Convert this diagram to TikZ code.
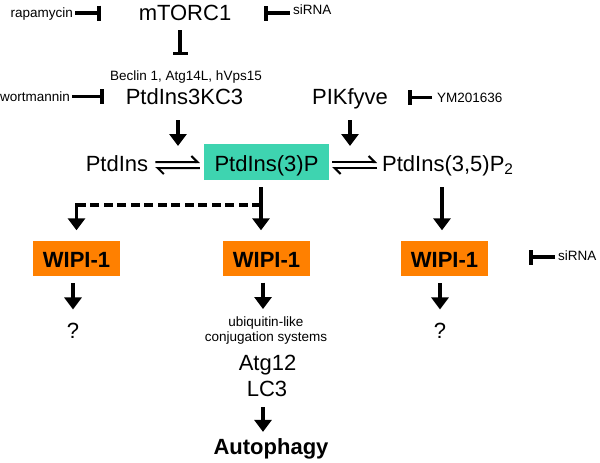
\documentclass[tikz,border=0pt]{standalone}
\usepackage{fontspec}
\setmainfont{Liberation Sans}
\usetikzlibrary{arrows.meta,calc}
\definecolor{teal3}{RGB}{62,212,176}
\definecolor{orng}{RGB}{255,128,0}
\tikzset{
 lbl/.style={font=\fontsize{13.5}{16}\selectfont, inner sep=0pt},
 big/.style={font=\fontsize{22}{26}\selectfont, inner sep=0pt},
 bigb/.style={font=\fontsize{22}{26}\selectfont\bfseries, inner sep=0pt},
 p3box/.style={big, fill=teal3, text height=18pt, text depth=0pt, inner ysep=9pt, inner xsep=0pt, minimum width=125pt},
 wbox/.style={bigb, fill=orng, text height=18pt, text depth=0pt, inner ysep=8.5pt, inner xsep=0pt, minimum width=87pt},
 act/.style={line width=3.5pt, -{Triangle[width=17pt,length=12pt]}},
 inh/.style={line width=3.5pt, -{Bar[width=15pt,line width=3.5pt]}},
 harp/.style={line width=2pt, -{Straight Barb[harpoon,length=6pt,width=12pt,line width=2pt]}},
 dsh/.style={line width=3.5pt, dash pattern=on 9pt off 4.5pt},
}
\begin{document}
\begin{tikzpicture}[x=1pt,y=-1pt]
\useasboundingbox (0,0) rectangle (600,463);
% top row
\node[lbl, anchor=base east] (rapa) at (73,17) {rapamycin};
\node[big, anchor=base] (mtorc) at (185,20) {mTORC1};
\node[lbl, anchor=base west] (sirna1) at (293,15) {siRNA};
\node[lbl, anchor=base] (beclin) at (186,80) {Beclin 1, Atg14L, hVps15};
\node[lbl, anchor=base east] (wort) at (70,101.5) {wortmannin};
\node[big, anchor=base] (k3) at (184.5,104) {PtdIns3KC3};
\node[big, anchor=base] (pik) at (350,104) {PIKfyve};
\node[lbl, anchor=base west] (ym) at (437,102) {YM201636};
% lipid row
\node[big, anchor=base] (ptdins) at (117,171) {PtdIns};
\node[p3box, anchor=base] (p3) at (266.5,171) {PtdIns(3)P};
\node[big, anchor=base west] (p35) at (382,171) {PtdIns(3,5)P\textsubscript{2}};
% WIPI row
\node[wbox, anchor=base] (wl) at (76.5,267) {WIPI-1};
\node[wbox, anchor=base] (wm) at (266.5,267) {WIPI-1};
\node[wbox, anchor=base] (wr) at (444.5,267) {WIPI-1};
\node[lbl, anchor=base west] (sirna2) at (558,260) {siRNA};
% bottom
\node[big, anchor=base] (ql) at (73,338) {?};
\node[big, anchor=base] (qr) at (440,338) {?};
\node[lbl, anchor=base] (ubi) at (266,326) {ubiquitin-like};
\node[lbl, anchor=base] (conj) at (266,341) {conjugation systems};
\node[big, anchor=base] (atg) at (267.5,370) {Atg12};
\node[big, anchor=base] (lc3) at (267,396) {LC3};
\node[bigb, anchor=base] (auto) at (271,454) {Autophagy};
% inhibitions
\draw[inh] ($(rapa.east)+(2,-0.5)$) -- ($(mtorc.west |- rapa.east)+(-38,-0.5)$);
\draw[inh] ($(sirna1.west |- rapa.east)+(-3,-0.5)$) -- ($(mtorc.east |- rapa.east)+(33,-0.5)$);
\draw[inh] ($(mtorc.south)+(-5,10)$) -- ($(beclin.north -| mtorc.south)+(-5,-15)$);
\draw[inh] ($(wort.east)+(2,0)$) -- ($(k3.west |- wort.east)+(-22,0)$);
\draw[inh] ($(ym.west)+(-5,0)$) -- ($(pik.east |- ym.west)+(20,0)$);
\draw[inh] ($(sirna2.west)+(-3,2)$) -- ($(wr.east |- sirna2.west)+(41,2)$);
% activations top
\draw[act] ($(k3.base)+(-6.5,16)$) -- ($(k3.base)+(-6.5,42)$);
\draw[act] ($(pik.base)+(0,16)$) -- ($(pik.base)+(0,42)$);
% equilibria
\draw[harp] ($(ptdins.east)+(7,-1)$) -- ($(p3.west)+(-4,0)$);
\draw[harp] ($(p3.west)+(-4,6)$) -- ($(ptdins.east)+(7,5)$);
\draw[harp] ($(p3.east)+(3,0)$) -- ($(p35.west |- p3.east)+(-5,0)$);
\draw[harp] ($(p35.west |- p3.east)+(-5,6)$) -- ($(p3.east)+(3,6)$);
% to WIPI
\draw[act] ($(p3.south)+(-5.5,7)$) -- ($(wm.north)+(-5.5,-10)$);
\coordinate (br) at ($(p3.south)+(-5.5,25)$);
\draw[dsh] (br) -- (br -| wl.north);
\draw[act] ($(br -| wl.north)+(0,-1.75)$) -- ($(wl.north)+(0,-10)$);
\draw[act] ($(p35.base -| wr.north)+(-2.5,16)$) -- ($(wr.north)+(-2.5,-10)$);
% below WIPI
\draw[act] ($(wl.south -| ql.north)+(0,7.5)$) -- ($(ql.north)+(0,-13)$);
\draw[act] ($(wm.south)+(-3.5,7)$) -- ($(wm.south |- ubi.north)+(-3.5,-7)$);
\draw[act] ($(wr.south -| qr.north)+(0,7.5)$) -- ($(qr.north)+(0,-13)$);
\draw[act] ($(lc3.base)+(-4,11)$) -- ($(lc3.base |- auto.north)+(-4,-6)$);
\end{tikzpicture}
\end{document}
